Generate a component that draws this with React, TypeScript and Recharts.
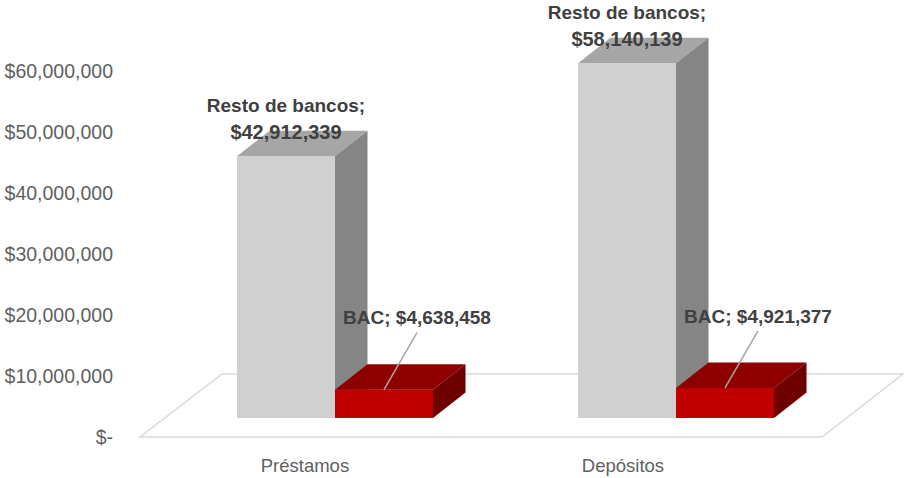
import { BarChart, Bar, XAxis, YAxis, LabelList } from "recharts";

const categories = ["Préstamos", "Depósitos"];
const restoBancos = [42912339, 58140139];
const bac = [4638458, 4921377];
const yTicks = [0, 10000000, 20000000, 30000000, 40000000, 50000000, 60000000];

const data = categories.map((name, i) => ({ name, resto: restoBancos[i], bac: bac[i] }));

// depth of the fake 3D boxes
const DX = 32.5;
const DY = -25.5;

const W = 904;
const H = 478;

const fmtMoney = (v: number) => (v === 0 ? "$-" : "$" + v.toLocaleString("en-US"));

const makeBox = (front: string, top: string, side: string) => (props: any) => {
  const { x, y, width, height } = props;
  if (width == null || height == null) return null;
  return (
    <g>
      <rect x={x} y={y} width={width} height={height} fill={front} />
      <polygon
        points={`${x},${y} ${x + width},${y} ${x + width + DX},${y + DY} ${x + DX},${y + DY}`}
        fill={top}
      />
      <polygon
        points={`${x + width},${y} ${x + width + DX},${y + DY} ${x + width + DX},${y + height + DY} ${x + width},${y + height}`}
        fill={side}
      />
    </g>
  );
};

const GrayBox = makeBox("#d0d0d0", "#a6a6a6", "#858585");
const RedBox = makeBox("#c00000", "#8e0000", "#6e0000");

const YTick = (props: any) => {
  const { x, y, payload } = props;
  return (
    <text x={x} y={y + 19.5} dy="0.355em" textAnchor="end" fill="#5f5f5f" fontSize={19.5}>
      {fmtMoney(payload.value)}
    </text>
  );
};

// category labels sit on the front edge of the floor, pulled a bit left by the perspective
const XTick = (props: any) => {
  const { x, y, payload } = props;
  return (
    <text x={x * 0.9326 - 7} y={y + 39} dy="0.355em" textAnchor="middle" fill="#5f5f5f" fontSize={18.5}>
      {payload.value}
    </text>
  );
};

const RestoLabel = (props: any) => {
  const { x, y, width, value } = props;
  const cx = x + width / 2;
  return (
    <g fontWeight="bold" fontSize={19} fill="#404040" textAnchor="middle">
      <text x={cx} y={y - 51} dy="0.355em">Resto de bancos;</text>
      <text x={cx} y={y - 24} dy="0.355em" fontSize={20}>{fmtMoney(value)}</text>
    </g>
  );
};

const BacLabel = (props: any) => {
  const { x, y, width, value } = props;
  const cx = x + width / 2;
  const lx = cx + 33;
  const ly = y - 72;
  return (
    <g>
      <line x1={lx} y1={ly + 15} x2={cx} y2={y} stroke="#a6a6a6" strokeWidth={1.5} />
      <text x={lx} y={ly} dy="0.355em" textAnchor="middle" fontWeight="bold" fontSize={19} fill="#404040">
        BAC; {fmtMoney(value)}
      </text>
    </g>
  );
};

export default function App() {
  return (
    <div style={{ position: "relative", width: W, height: H, background: "#fff", fontFamily: "'Liberation Sans', Arial, sans-serif" }}>
      <style>{"body{margin:0}"}</style>
      {/* floor of the 3D plot */}
      <svg width={W} height={H} style={{ position: "absolute", left: 0, top: 0 }}>
        <polygon points="140,437 822,437 903,374 222,374" fill="none" stroke="#d9d9d9" strokeWidth={1.5} />
      </svg>
      <div style={{ position: "absolute", left: 0, top: 0 }}>
        <BarChart
          width={W}
          height={H}
          data={data}
          margin={{ top: 52, right: 58, bottom: 0, left: 0 }}
          barGap={0}
          barCategoryGap={73}
        >
          <XAxis dataKey="name" axisLine={false} tickLine={false} tick={<XTick />} height={60} />
          <YAxis
            domain={[0, 60000000]}
            ticks={yTicks}
            width={164}
            axisLine={false}
            tickLine={false}
            tickSize={0}
            tickMargin={51}
            tick={<YTick />}
            interval={0}
          />
          <Bar dataKey="resto" shape={GrayBox} isAnimationActive={false}>
            <LabelList dataKey="resto" content={<RestoLabel />} />
          </Bar>
          <Bar dataKey="bac" shape={RedBox} isAnimationActive={false}>
            <LabelList dataKey="bac" content={<BacLabel />} />
          </Bar>
        </BarChart>
      </div>
    </div>
  );
}
